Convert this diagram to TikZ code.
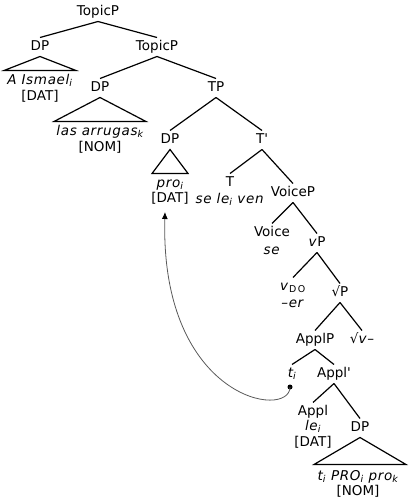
\documentclass[tikz,border=0pt]{standalone}
\usepackage{fontspec}
\setmainfont{DejaVu Sans}[ItalicFeatures={LetterSpace=5}]
\usetikzlibrary{arrows.meta}
\newcommand\sbs[1]{\textsubscript{#1}}
\begin{document}
\begin{tikzpicture}[x=1pt,y=-1pt,
  lbl/.style={font=\fontsize{13.5}{15}\selectfont, inner sep=0pt, text height=10pt, text depth=3pt, outer ysep=3pt},
  br/.style={line width=1.2pt},
  tri/.style={line width=1.2pt, line join=miter},
  mv/.style={draw=black!65, line width=0.8pt, -{Latex[length=7pt,width=6pt,color=black]}},
]
\useasboundingbox (0,0) rectangle (410,500);
% category labels
\node[lbl] (top1) at (98,12) {TopicP};
\node[lbl] (dp1) at (40,47) {DP};
\node[lbl] (top2) at (157,47) {TopicP};
\node[lbl] (dp2) at (100,88) {DP};
\node[lbl] (tp) at (216,88) {TP};
\node[lbl] (dp3) at (170,140) {DP};
\node[lbl] (tbar) at (262,140) {T\textquotesingle};
\node[lbl] (t) at (230,183) {T};
\node[lbl] (voicep) at (293,193) {VoiceP};
\node[lbl] (voice) at (272,233) {Voice};
\node[lbl] (vp) at (317,243) {\textit{v}P};
\node[lbl] (vdo) at (293,287) {\textit{v}\sbs{D\,O}};
\node[lbl] (rootp) at (340,293) {√P};
\node[lbl] (applp) at (315,340) {ApplP};
\node[lbl] (rootv) at (362,340) {√\textit{v}–};
\node[lbl] (ti) at (292,374) {\textit{t\sbs{i}}};
\node[lbl] (applbar) at (334,374) {Appl\textquotesingle};
\node[lbl] (appl) at (313,412) {Appl};
\node[lbl] (dp4) at (360,428) {DP};
% sub-texts
\node[lbl] (ismael) at (40,81) {\textit{A Ismael\sbs{i}}};
\node[lbl] (dat1) at (40,97) {[DAT]};
\node[lbl] (arrugas) at (100,132) {\textit{las arrugas\sbs{k}}};
\node[lbl] (nom1) at (100,148) {[NOM]};
\node[lbl] (pro) at (170,184) {\textit{pro\sbs{i}}};
\node[lbl] (pdat) at (170,199) {[DAT]};
\node[lbl] (selevn) at (230,200) {\textit{se le\sbs{i} ven}};
\node[lbl] (se) at (272,251) {\textit{se}};
\node[lbl] (er) at (293,304) {\textit{–er}};
\node[lbl] (le) at (313,427) {\textit{le\sbs{i}}};
\node[lbl] (adat) at (313,443) {[DAT]};
\node[lbl] (pros) at (358,477) {\textit{t\sbs{i} PRO\sbs{i} pro\sbs{k}}};
\node[lbl] (nom2) at (358,492) {[NOM]};
% branches
\draw[br] (top1.south) -- (dp1.north);
\draw[br] (top1.south) -- (top2.north);
\draw[br] (top2.south) -- (dp2.north);
\draw[br] (top2.south) -- (tp.north);
\draw[br] (tp.south) -- (dp3.north);
\draw[br] (tp.south) -- (tbar.north);
\draw[br] (tbar.south) -- (t.north);
\draw[br] (tbar.south) -- (voicep.north);
\draw[br] (voicep.south) -- (voice.north);
\draw[br] (voicep.south) -- (vp.north);
\draw[br] (vp.south) -- (vdo.north);
\draw[br] (vp.south) -- (rootp.north);
\draw[br] (rootp.south) -- (applp.north);
\draw[br] (rootp.south) -- (rootv.north);
\draw[br] (applp.south) -- (ti.north);
\draw[br] (applp.south) -- (applbar.north);
\draw[br] (applbar.south) -- (appl.north);
\draw[br] (applbar.south) -- (dp4.north);
% triangles
\draw[tri] (dp1.south) -- ++(-36,14) -- ++(72,0) -- cycle;
\draw[tri] (dp2.south) -- ++(-46,24) -- ++(92,0) -- cycle;
\draw[tri] (dp3.south) -- ++(-18,24) -- ++(36,0) -- cycle;
\draw[tri] (dp4.south) -- ++(-46,27) -- ++(92,0) -- cycle;
% movement
\coordinate (dot) at (290,387);
\coordinate (tgt) at (165,212);
\fill (dot) circle (2.5);
\draw[mv] (dot) .. controls (290,420) and (160,400) .. (tgt);
\end{tikzpicture}
\end{document}
